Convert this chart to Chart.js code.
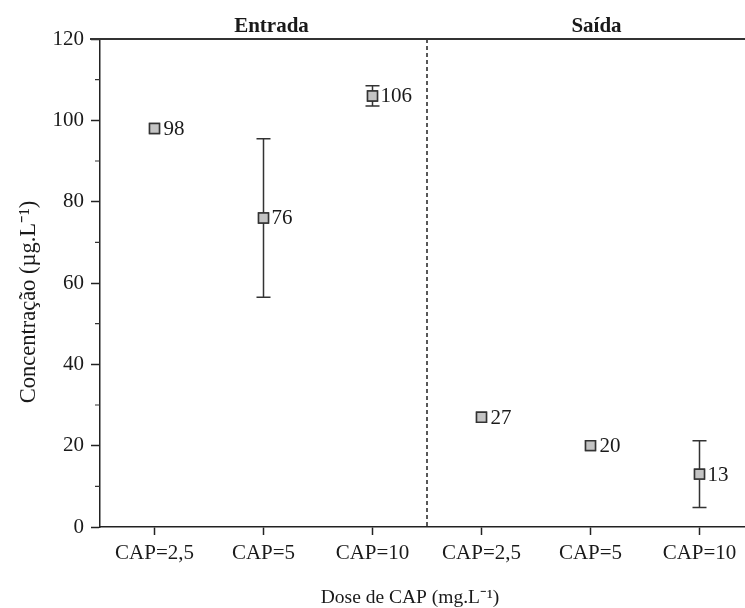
<!DOCTYPE html>
<html lang="pt">
<head>
  <meta charset="UTF-8">
  <title>Concentração por dose de CAP</title>
  <script src="https://cdn.jsdelivr.net/npm/chart.js@4.4.0/dist/chart.umd.min.js"></script>
  <style>
    html, body { margin: 0; padding: 0; background: #fff; overflow: hidden; }
    #wrap { width: 765px; height: 608px; }
  </style>
</head>
<body>
  <div id="wrap"><canvas id="myChart" width="765" height="608"></canvas></div>
  <script>
    // doses, grouped as Entrada (first three) and Saída (last three)
    const categories = ['CAP=2,5', 'CAP=5', 'CAP=10', 'CAP=2,5', 'CAP=5', 'CAP=10'];
    const means = [98, 76, 106, 27, 20, 13];
    const errors = [0, 19.5, 2.5, 0, 0, 8.2];   // +/- deviation
    const groups = ['Entrada', 'Saída'];
    const yTicks = [0, 20, 40, 60, 80, 100, 120];

    const SERIF = '"Liberation Serif", "Times New Roman", serif';
    const INK = '#1a1a1a';

    // error bars, value labels, divider, group headings and minor ticks
    const extras = {
      id: 'extras',
      afterDatasetsDraw(chart) {
        const ctx = chart.ctx;
        const x = chart.scales.x, y = chart.scales.y;
        const area = chart.chartArea;
        ctx.save();

        // error bars
        ctx.strokeStyle = '#333';
        ctx.lineWidth = 1.5;
        means.forEach((m, i) => {
          if (!errors[i]) return;
          const px = x.getPixelForValue(i);
          const top = y.getPixelForValue(m + errors[i]);
          const bot = y.getPixelForValue(m - errors[i]);
          ctx.beginPath();
          ctx.moveTo(px, top); ctx.lineTo(px, bot);
          ctx.moveTo(px - 7, top); ctx.lineTo(px + 7, top);
          ctx.moveTo(px - 7, bot); ctx.lineTo(px + 7, bot);
          ctx.stroke();
        });

        // redraw markers over the bars
        chart.getDatasetMeta(0).controller.draw();

        // value labels
        ctx.fillStyle = INK;
        ctx.font = '21px ' + SERIF;
        ctx.textAlign = 'left';
        ctx.textBaseline = 'middle';
        means.forEach((m, i) => {
          const px = x.getPixelForValue(i);
          const py = y.getPixelForValue(m);
          ctx.fillText(String(m), px + (errors[i] ? 8 : 9), py + 1);
        });

        // dashed divider between the two groups
        const mid = (x.getPixelForValue(2) + x.getPixelForValue(3)) / 2;
        ctx.setLineDash([4, 3]);
        ctx.lineWidth = 1.5;
        ctx.strokeStyle = '#222';
        ctx.beginPath();
        ctx.moveTo(mid, area.top);
        ctx.lineTo(mid, area.bottom);
        ctx.stroke();
        ctx.setLineDash([]);

        // top frame line
        ctx.lineWidth = 2;
        ctx.strokeStyle = '#333';
        ctx.beginPath();
        ctx.moveTo(area.left - 10, area.top);
        ctx.lineTo(chart.width, area.top);
        ctx.stroke();

        // minor y ticks
        ctx.lineWidth = 1.2;
        ctx.beginPath();
        for (let v = 10; v < 120; v += 20) {
          const py = y.getPixelForValue(v);
          ctx.moveTo(area.left - 5, py);
          ctx.lineTo(area.left, py);
        }
        ctx.stroke();

        // group headings
        ctx.font = 'bold 21px ' + SERIF;
        ctx.textAlign = 'center';
        ctx.textBaseline = 'alphabetic';
        ctx.fillText(groups[0], x.getPixelForValue(1) + 8, 32);
        ctx.fillText(groups[1], x.getPixelForValue(4) + 6, 32);

        // axis titles
        ctx.font = '19.5px ' + SERIF;
        ctx.fillText('Dose de CAP (mg.L\u207B\u00B9)', 410, 603);
        ctx.font = '22.5px ' + SERIF;
        ctx.translate(35, 302);
        ctx.rotate(-Math.PI / 2);
        ctx.fillText('Concentração (µg.L\u207B\u00B9)', 0, 0);

        ctx.restore();
      }
    };

    const ctx = document.getElementById('myChart').getContext('2d');
    const myChart = new Chart(ctx, {
      type: 'line',
      data: {
        labels: categories,
        datasets: [{
          data: means,
          showLine: false,
          pointStyle: 'rect',
          pointRadius: 7,
          pointHoverRadius: 7,
          pointBackgroundColor: '#c4c4c4',
          pointBorderColor: '#333',
          pointBorderWidth: 1.5
        }]
      },
      options: {
        responsive: false,
        animation: false,
        events: [],
        layout: { padding: { left: 0, right: 11, top: 39, bottom: 0 } },
        plugins: {
          legend: { display: false },
          tooltip: { enabled: false }
        },
        scales: {
          x: {
            type: 'category',
            offset: true,
            grid: {
              display: true,
              drawOnChartArea: false,
              offset: false,
              tickLength: 8,
              tickColor: '#222',
              tickWidth: 1.5
            },
            border: { display: true, color: '#222', width: 1.5 },
            ticks: {
              color: INK,
              padding: 6,
              maxRotation: 0,
              autoSkip: false,
              font: { family: SERIF, size: 21 }
            },
            afterFit(scale) { scale.height = 81; }
          },
          y: {
            min: 0,
            max: 120,
            afterBuildTicks(scale) { scale.ticks = yTicks.map(v => ({ value: v })); },
            grid: {
              display: true,
              drawOnChartArea: false,
              tickLength: 9,
              tickColor: '#222',
              tickWidth: 1.5
            },
            border: { display: true, color: '#222', width: 1.5 },
            ticks: {
              color: INK,
              padding: 7,
              font: { family: SERIF, size: 21 }
            },
            afterFit(scale) { scale.width = 100; }
          }
        }
      },
      plugins: [extras]
    });
  </script>
</body>
</html>
